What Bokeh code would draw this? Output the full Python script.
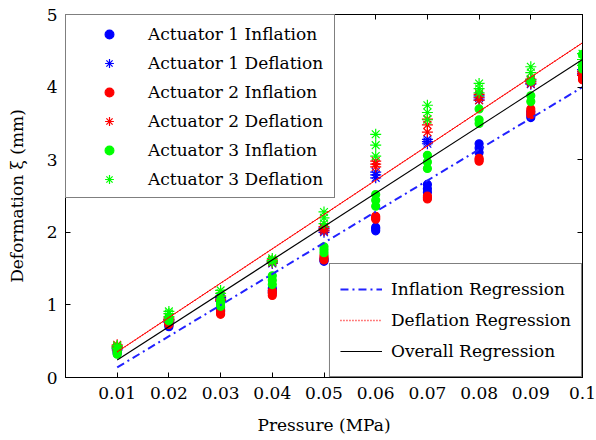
from bokeh.plotting import figure
from bokeh.models import Range1d, FixedTicker, LinearAxis, Legend, LegendItem, ColumnDataSource
from bokeh.embed import file_html
from bokeh.resources import INLINE

# ---------------- data ----------------
pressure = [0.01, 0.02, 0.03, 0.04, 0.05, 0.06, 0.07, 0.08, 0.09, 0.1]
x_tick_labels = ["0.01", "0.02", "0.03", "0.04", "0.05", "0.06", "0.07", "0.08", "0.09", "0.1"]
y_ticks = [0, 1, 2, 3, 4, 5]

# three trials per pressure
a1_inflation = [[0.33, 0.35, 0.36], [0.70, 0.72, 0.74], [0.91, 0.93, 0.96], [1.17, 1.20, 1.23],
                [1.60, 1.62, 1.64], [2.02, 2.05, 2.07], [2.55, 2.60, 2.66], [3.10, 3.16, 3.22],
                [3.58, 3.62, 3.66], [4.15, 4.18, 4.21]]
a1_deflation = [[0.38, 0.40, 0.41], [0.76, 0.78, 0.80], [1.05, 1.08, 1.10], [1.57, 1.59, 1.61],
                [2.00, 2.03, 2.06], [2.75, 2.79, 2.83], [3.22, 3.25, 3.28], [3.82, 3.85, 3.88],
                [4.04, 4.07, 4.10], [4.18, 4.21, 4.24]]
a2_inflation = [[0.37, 0.38, 0.40], [0.73, 0.75, 0.77], [0.87, 0.89, 0.92], [1.13, 1.16, 1.19],
                [1.62, 1.65, 1.68], [2.18, 2.20, 2.22], [2.46, 2.48, 2.50], [2.98, 3.00, 3.02],
                [3.62, 3.66, 3.70], [4.10, 4.14, 4.18]]
a2_deflation = [[0.42, 0.43, 0.45], [0.78, 0.80, 0.82], [1.06, 1.08, 1.12], [1.58, 1.60, 1.62],
                [2.02, 2.05, 2.08], [2.90, 2.94, 2.98], [3.38, 3.48, 3.56], [3.82, 3.86, 3.90],
                [4.05, 4.08, 4.11], [4.16, 4.19, 4.22]]
a3_inflation = [[0.32, 0.35, 0.38], [0.78, 0.80, 0.82], [0.98, 1.02, 1.06], [1.28, 1.34, 1.40],
                [1.72, 1.76, 1.80], [2.36, 2.44, 2.52], [2.88, 2.97, 3.06], [3.50, 3.55, 3.70],
                [3.80, 3.88, 4.08], [4.25, 4.30, 4.45]]
a3_deflation = [[0.40, 0.42, 0.44], [0.84, 0.88, 0.91], [1.12, 1.16, 1.20], [1.59, 1.61, 1.64],
                [2.12, 2.20, 2.28], [3.05, 3.20, 3.35], [3.55, 3.65, 3.75], [3.92, 3.98, 4.05],
                [4.10, 4.20, 4.28], [4.30, 4.38, 4.46]]

# regression fits: deformation = slope * pressure + intercept
fit_x = [0.01, 0.1]
inflation_fit = {"slope": 42.9, "intercept": -0.29}
deflation_fit = {"slope": 47.3, "intercept": -0.12}
overall_fit = {"slope": 46.0, "intercept": -0.22}

x_label = "Pressure (MPa)"
y_label = "Deformation \u03be (mm)"

# ---------------- figure ----------------
FONT = "DejaVu Serif"
FS = "17px"
p = figure(width=596, height=440, x_range=Range1d(0, 0.1), y_range=Range1d(0, 5),
           output_backend="svg", toolbar_location=None,
           min_border_left=65, min_border_right=14, min_border_top=14, min_border_bottom=63)
p.grid.visible = False
p.outline_line_color = "black"
p.background_fill_color = "white"
p.border_fill_color = "white"

series = [
    ("Actuator 1 Inflation", a1_inflation, "#0000ff", "circle", 8),
    ("Actuator 1 Deflation", a1_deflation, "#0000ff", "asterisk", 11),
    ("Actuator 2 Inflation", a2_inflation, "#ff0000", "circle", 8),
    ("Actuator 2 Deflation", a2_deflation, "#ff0000", "asterisk", 11),
    ("Actuator 3 Inflation", a3_inflation, "#00ff00", "circle", 8),
    ("Actuator 3 Deflation", a3_deflation, "#00ff00", "asterisk", 11),
]
items1 = []
for label, vals, color, marker, size in series:
    xs, ys = [], []
    for px, trials in zip(pressure, vals):
        for v in trials:
            xs.append(px)
            ys.append(v)
    src = ColumnDataSource(dict(x=xs, y=ys))
    r = p.scatter("x", "y", source=src, marker=marker, size=size,
                  fill_color=color, line_color=color, line_width=1.2)
    items1.append(LegendItem(label=label, renderers=[r]))

def fit_line(fit):
    return [fit["slope"] * x + fit["intercept"] for x in fit_x]

r_inf = p.line(fit_x, fit_line(inflation_fit), line_color="#2222ff", line_width=2, line_dash="8 4 2 4")
# dotted deflation fit (legend sample), overdrawn by a fine solid line as in the figure
r_def_leg = p.line(fit_x, fit_line(deflation_fit), line_color="#ff0000", line_width=1.3, line_dash="1 2")
r_def = p.line(fit_x, fit_line(deflation_fit), line_color="#ff0000", line_width=1)
r_all = p.line(fit_x, fit_line(overall_fit), line_color="black", line_width=1.2)

# ---------------- axes ----------------
p.xaxis.ticker = FixedTicker(ticks=pressure)
p.xaxis.major_label_overrides = {t: l for t, l in zip(pressure, x_tick_labels)}
p.yaxis.ticker = FixedTicker(ticks=y_ticks)
p.xaxis.axis_label = x_label
p.yaxis.axis_label = y_label

for ax in [p.xaxis[0], p.yaxis[0]]:
    ax.major_tick_in = 5
    ax.major_tick_out = 0
    ax.minor_tick_line_color = None
    ax.axis_line_color = "black"
    ax.major_tick_line_color = "black"
    ax.major_label_text_font = FONT
    ax.major_label_text_font_size = FS
    ax.major_label_text_color = "black"
    ax.axis_label_text_font = FONT
    ax.axis_label_text_font_size = FS
    ax.axis_label_text_font_style = "normal"
    ax.axis_label_text_color = "black"

p.xaxis.major_label_standoff = 9
p.xaxis.axis_label_standoff = 13
p.yaxis.major_label_standoff = 8
p.yaxis.axis_label_standoff = 17

for side, ticks in (("right", y_ticks), ("above", pressure)):
    ax = LinearAxis(ticker=FixedTicker(ticks=ticks), major_label_text_font_size="0px",
                    major_label_standoff=0, major_tick_in=5, major_tick_out=0,
                    minor_tick_line_color=None, axis_line_color="black")
    p.add_layout(ax, side)

# ---------------- legends ----------------
leg1 = Legend(items=items1, location="top_left", margin=0, padding=4, spacing=0,
              label_height=29, glyph_height=22, glyph_width=78, label_standoff=0,
              label_width=182, border_line_color="black", border_line_width=1,
              background_fill_color="white", background_fill_alpha=1,
              label_text_font=FONT, label_text_font_size=FS, label_text_color="black")
leg2 = Legend(items=[LegendItem(label="Inflation Regression", renderers=[r_inf]),
                     LegendItem(label="Deflation Regression", renderers=[r_def_leg]),
                     LegendItem(label="Overall Regression", renderers=[r_all])],
              location="bottom_right", margin=0, padding=10, spacing=1,
              label_height=30, glyph_height=30, glyph_width=42, label_standoff=9,
              label_width=176, border_line_color="black", border_line_width=1,
              background_fill_color="white", background_fill_alpha=1,
              label_text_font=FONT, label_text_font_size=FS, label_text_color="black")
p.add_layout(leg1)
p.add_layout(leg2)

open("out.html", "w").write(file_html(p, INLINE))
